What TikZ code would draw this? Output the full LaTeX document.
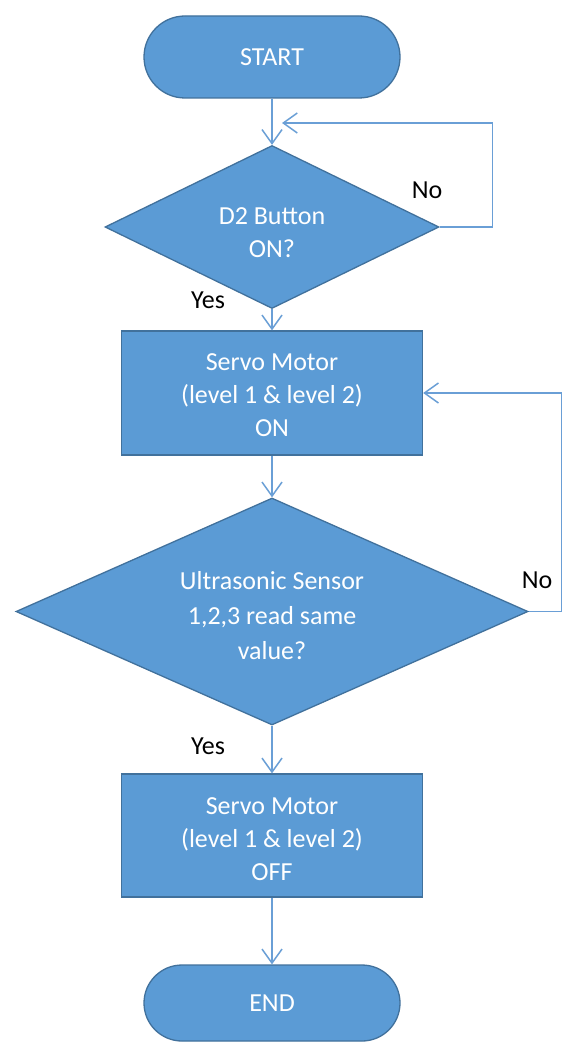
\documentclass[tikz,border=0pt]{standalone}
\usepackage{fontspec}
\setmainfont{Carlito}
\usetikzlibrary{shapes.geometric,arrows.meta}
\definecolor{boxfill}{HTML}{5B9BD5}
\definecolor{boxline}{HTML}{41719C}
\definecolor{wire}{HTML}{6A9FD6}
\begin{document}
\begin{tikzpicture}[x=1pt,y=-1pt,
  every node/.style={font=\fontsize{26}{33}\selectfont, align=center},
  shapebase/.style={fill=boxfill, draw=boxline, line width=1.3pt, text=white, inner sep=0pt},
  terminal/.style={shapebase, rectangle, rounded corners=#1, minimum width=256pt, minimum height=2*#1},
  process/.style={shapebase, rectangle, minimum width=301pt, minimum height=124pt},
  decision/.style={shapebase, diamond, shape aspect=#1},
  conn/.style={draw=wire, line width=1.5pt, -{Straight Barb[length=14pt,width=20pt]}},
  tag/.style={text=black, inner sep=0pt}]
\useasboundingbox (0,0) rectangle (565,1043);
\fill[white] (0,0) rectangle (565,1043);

% flow chart shapes
\node[terminal=41pt] (start) at (272,57) {START};
\node[decision=2.05, minimum width=334pt, minimum height=163pt] (d1) at (272,227)
  {\rule{0pt}{29pt}D2 Button\\ON?};
\node[process] (box1) at (272,393) {\rule{0pt}{21pt}Servo Motor\\(level 1 \& level 2)\\ON};
\node[decision=2.26, minimum width=512pt, minimum height=227pt,
  font=\fontsize{26}{35}\selectfont] (d2) at (272,611.5)
  {\rule{0pt}{27pt}Ultrasonic Sensor\\1,2,3 read same\\value?};
\node[process, minimum height=123pt] (box2) at (272,835.5)
  {\rule{0pt}{24pt}Servo Motor\\(level 1 \& level 2)\\OFF};
\node[terminal=38pt] (end) at (272,1003) {END};

% branch labels
\node[tag] (no1) at (427,190) {No};
\node[tag] (yes1) at (208,300) {Yes};
\node[tag] (no2) at (537,580) {No};
\node[tag] (yes2) at (208,746) {Yes};

% loop return points
\coordinate (ret1) at (282,123);

% connectors
\draw[conn] (start.south) -- (d1.north);
\draw[conn] (d1.east) -- ++(53,0) |- (ret1);
\draw[conn] (d1.south) -- (box1.north);
\draw[conn] (box1.south) -- (d2.north);
\draw[conn] (d2.east) -- ++(33,0) |- (box1.east);
\draw[conn] (d2.south) -- (box2.north);
\draw[conn] (box2.south) -- (end.north);
\end{tikzpicture}
\end{document}
